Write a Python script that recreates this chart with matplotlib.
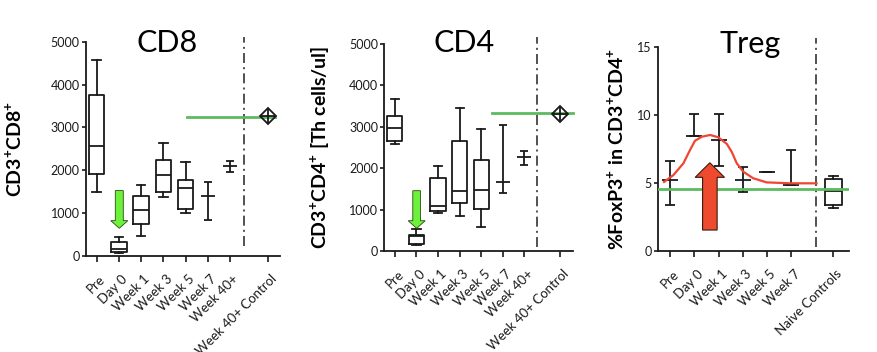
import matplotlib
matplotlib.use("Agg")
import matplotlib.pyplot as plt
from matplotlib.transforms import ScaledTranslation

plt.rcParams['font.family'] = ['Lato', 'DejaVu Sans']
plt.rcParams['mathtext.fontset'] = 'custom'
plt.rcParams['mathtext.rm'] = 'Lato'
plt.rcParams['mathtext.bf'] = 'Lato:bold'

# ---------------- data ----------------
cd8_labels = ["Pre", "Day 0", "Week 1", "Week 3", "Week 5", "Week 7", "Week 40+", "Week 40+ Control"]
cd8_box_whislo = [1485, 70, 475, 1384, 995]
cd8_box_q1 = [1913, 93, 748, 1485, 1104]
cd8_box_med = [2574, 175, 1075, 1890, 1586]
cd8_box_q3 = [3756, 327, 1409, 2247, 1773]
cd8_box_whishi = [4573, 444, 1666, 2628, 2185]
cd8_bar_lo = [848, 1967]
cd8_bar_mid = [1392, 2092]
cd8_bar_hi = [1718, 2216]
cd8_control = 3270
cd8_ref = 3250

cd4_labels = ["Pre", "Day 0", "Week 1", "Week 3", "Week 5", "Week 7", "Week 40+", "Week 40+ Control"]
cd4_box_whislo = [2585, 137, 918, 853, 588]
cd4_box_q1 = [2657, 161, 974, 1167, 1006]
cd4_box_med = [2963, 360, 1095, 1457, 1481]
cd4_box_q3 = [3261, 386, 1763, 2649, 2206]
cd4_box_whishi = [3680, 531, 2053, 3446, 2947]
cd4_bar_lo = [1409, 2077]
cd4_bar_mid = [1659, 2262]
cd4_bar_hi = [3052, 2424]
cd4_control = 3300
cd4_ref = 3325

treg_labels = ["Pre", "Day 0", "Week 1", "Week 3", "Week 5", "Week 7", "Naive Controls"]
treg_lo = [3.40, 8.42, 6.26, 4.31, 5.80, 4.84]
treg_mid = [5.19, 8.42, 8.17, 5.24, 5.80, 4.84]
treg_hi = [6.63, 10.08, 10.08, 6.19, 5.80, 7.39]
treg_naive_box = [3.16, 3.40, 4.40, 5.29, 5.51]  # whislo, q1, med, q3, whishi
treg_ref = 4.55
trend_x = [-0.25, 0.14, 0.55, 0.82, 1.03, 1.31, 1.65, 1.99, 2.34, 2.54, 2.75, 3.02, 3.43, 3.98, 4.94, 6.04]
trend_y = [5.07, 5.58, 6.44, 7.41, 8.10, 8.39, 8.52, 8.35, 7.86, 7.29, 6.44, 5.82, 5.34, 5.04, 4.97, 4.97]

# ---------------- style ----------------
INK = '#1a1a1a'
GREEN = '#5cba5f'
LW = 1.3

fig = plt.figure(figsize=(8.78, 3.52), dpi=100)


def style_axis(ax, xlim, ylim, yticks, positions, labels):
    ax.set_xlim(*xlim)
    ax.set_ylim(*ylim)
    for s in ['top', 'right']:
        ax.spines[s].set_visible(False)
    for s in ['left', 'bottom']:
        ax.spines[s].set_linewidth(LW)
        ax.spines[s].set_color(INK)
    ax.set_yticks(yticks)
    ax.set_yticklabels([str(t) for t in yticks], fontsize=9, color=INK)
    ax.set_xticks(positions)
    ax.set_xticklabels(labels, rotation=45, ha='right', va='top',
                       rotation_mode='anchor', fontsize=9.5, color=INK)
    ax.tick_params(axis='y', length=3, width=1.2, color=INK, pad=1.5)
    ax.tick_params(axis='x', length=4, width=1.2, color=INK, pad=8)
    off = ScaledTranslation(2.5 / 100, 0, fig.dpi_scale_trans)
    for lab in ax.get_xticklabels():
        lab.set_transform(lab.get_transform() + off)


def boxes(ax, whislo, q1, med, q3, whishi, positions):
    stats = [dict(whislo=a, q1=b, med=c, q3=d, whishi=e)
             for a, b, c, d, e in zip(whislo, q1, med, q3, whishi)]
    lp = dict(color=INK, linewidth=LW)
    ax.bxp(stats, positions=positions, widths=0.7, capwidths=0.38,
           showfliers=False, boxprops=lp, whiskerprops=lp, capprops=lp,
           medianprops=lp, manage_ticks=False)


def bars(ax, x, lo, mid, hi, ms=10, cap=3):
    for xi, l, m, h in zip(x, lo, mid, hi):
        ax.errorbar([xi], [m], yerr=[[m - l], [h - m]], fmt='_', ms=ms, mew=LW,
                    color=INK, ecolor=INK, elinewidth=LW, capsize=cap, capthick=LW)


def control(ax, x, v):
    ax.plot([x], [v], marker='D', ms=8, mfc='none', mec=INK, mew=1.3, zorder=5)
    ax.plot([x], [v], marker='+', ms=11, mec=INK, mew=1.3, zorder=5)


def divider(ax, x, y0, y1):
    ax.plot([x, x], [y0, y1], color='#333333', lw=1.2, linestyle=(0, (6, 2.5, 1.2, 2.5)),
            clip_on=False, zorder=3)


# ---------------- CD8 ----------------
ax1 = fig.add_axes([0.0979, 0.2727, 0.221, 0.6089])
pos1 = [0, 1, 2, 3, 4, 5, 6, 7.73]
boxes(ax1, cd8_box_whislo, cd8_box_q1, cd8_box_med, cd8_box_q3, cd8_box_whishi, pos1[:5])
bars(ax1, pos1[5:7], cd8_bar_lo, cd8_bar_mid, cd8_bar_hi, ms=10, cap=3)
ax1.plot([4.05, 8.03], [cd8_ref, cd8_ref], color=GREEN, lw=2, zorder=4, clip_on=False)
control(ax1, pos1[7], cd8_control)
divider(ax1, 6.63, 233, 5100)
ax1.arrow(1.02, 1526, 0, -(1526 - 647), width=0.36, head_width=0.77, head_length=178,
          length_includes_head=True, fc='#6cf23a', ec='#2a4a10', lw=0.6, zorder=6)
style_axis(ax1, (-0.48, 8.25), (0, 5000), [0, 1000, 2000, 3000, 4000, 5000], pos1, cd8_labels)
ax1.set_ylabel(r'CD3$^{\mathbf{+}}$CD8$^{\mathbf{+}}$', fontsize=14, fontweight='bold')
ax1.yaxis.set_label_coords(-0.314, 0.5)
ax1.text(0.42, 0.953, 'CD8', transform=ax1.transAxes, ha='center', va='baseline', fontsize=22)

# ---------------- CD4 ----------------
ax2 = fig.add_axes([0.4377, 0.2869, 0.2146, 0.588])
pos2 = [0, 1, 2, 3, 4, 5, 6, 7.65]
boxes(ax2, cd4_box_whislo, cd4_box_q1, cd4_box_med, cd4_box_q3, cd4_box_whishi, pos2[:5])
bars(ax2, pos2[5:7], cd4_bar_lo, cd4_bar_mid, cd4_bar_hi, ms=10, cap=3)
ax2.plot([4.48, 8.24], [cd4_ref, cd4_ref], color=GREEN, lw=2, zorder=4, clip_on=False)
control(ax2, pos2[7], cd4_control)
divider(ax2, 6.57, 105, 5180)
ax2.arrow(1.01, 1457, 0, -(1457 - 548), width=0.36, head_width=0.79, head_length=184,
          length_includes_head=True, fc='#6cf23a', ec='#2a4a10', lw=0.6, zorder=6)
style_axis(ax2, (-0.49, 8.24), (0, 5000), [0, 1000, 2000, 3000, 4000, 5000], pos2, cd4_labels)
ax2.set_ylabel(r'CD3$^{\mathbf{+}}$CD4$^{\mathbf{+}}$ [Th cells/ul]', fontsize=14, fontweight='bold')
ax2.yaxis.set_label_coords(-0.277, 0.5)
ax2.text(0.424, 0.96, 'CD4', transform=ax2.transAxes, ha='center', va='baseline', fontsize=22)

# ---------------- Treg ----------------
ax3 = fig.add_axes([0.7491, 0.2869, 0.2182, 0.5804])
pos3 = [0, 1, 2, 3, 4, 5, 6.73]
bars(ax3, pos3[:6], treg_lo, treg_mid, treg_hi, ms=12, cap=3.3)
boxes(ax3, [treg_naive_box[0]], [treg_naive_box[1]], [treg_naive_box[2]],
      [treg_naive_box[3]], [treg_naive_box[4]], [pos3[6]])
ax3.axhline(treg_ref, color=GREEN, lw=2, zorder=4)
ax3.plot(trend_x, trend_y, color='#f04535', lw=1.6, zorder=5)
divider(ax3, 6.03, 0.32, 15.66)
ax3.arrow(1.64, 1.54, 0, 6.48 - 1.54, width=0.6, head_width=1.21, head_length=1.07,
          length_includes_head=True, fc='#ee4a2e', ec='#3a1a10', lw=0.8, zorder=6)
style_axis(ax3, (-0.51, 7.39), (0, 15), [0, 5, 10, 15], pos3, treg_labels)
ax3.set_ylabel(r'%FoxP3$^{\mathbf{+}}$ in CD3$^{\mathbf{+}}$CD4$^{\mathbf{+}}$', fontsize=14, fontweight='bold')
ax3.yaxis.set_label_coords(-0.162, 0.5)
ax3.text(0.483, 0.97, 'Treg', transform=ax3.transAxes, ha='center', va='baseline', fontsize=22)

fig.savefig('out.png', dpi=100)
